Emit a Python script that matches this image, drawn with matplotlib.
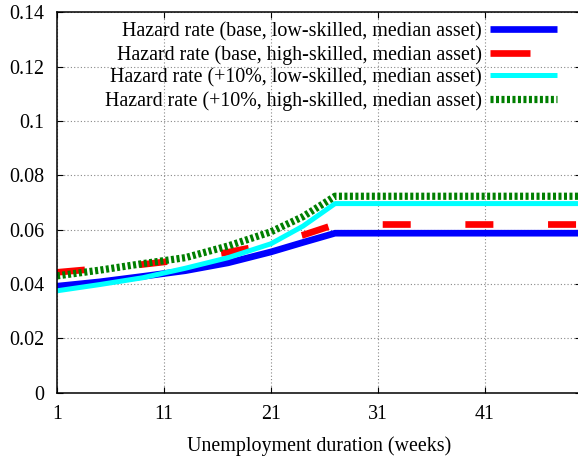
import matplotlib
matplotlib.use("Agg")
import matplotlib.pyplot as plt
from matplotlib.ticker import FuncFormatter

plt.rcParams['font.family'] = ['Liberation Serif', 'DejaVu Serif']

# weeks and hazard rates
weeks = [1, 5, 9, 13, 17, 21, 24, 27, 50]
base_low = [0.0392, 0.0408, 0.0428, 0.0449, 0.0478, 0.0518, 0.0553, 0.0587, 0.0587]
base_high = [0.0443, 0.0457, 0.0472, 0.0490, 0.0517, 0.0548, 0.0580, 0.0619, 0.0619]
plus_low = [0.0375, 0.0398, 0.0423, 0.0458, 0.0497, 0.0548, 0.0613, 0.0696, 0.0696]
plus_high = [0.0430, 0.0451, 0.0475, 0.0497, 0.0540, 0.0592, 0.0648, 0.0723, 0.0723]

labels = ['Hazard rate (base, low-skilled, median asset)',
          'Hazard rate (base, high-skilled, median asset)',
          'Hazard rate (+10%, low-skilled, median asset)',
          'Hazard rate (+10%, high-skilled, median asset)']
xticks = [1, 11, 21, 31, 41]
yticks = [0, 0.02, 0.04, 0.06, 0.08, 0.1, 0.12, 0.14]

fig = plt.figure(figsize=(5.78, 4.59), dpi=100)
ax = fig.add_axes([57 / 578, 66.3 / 459, 524 / 578, 380.4 / 459])

ax.plot(weeks, base_low, color='#0000ff', lw=4.8, solid_capstyle='butt', label=labels[0])
ax.plot(weeks, base_high, color='#ff0000', lw=4.8, dashes=(4.2, 8.2), dash_capstyle='butt', label=labels[1])
ax.plot(weeks, plus_low, color='#00ffff', lw=3.6, solid_capstyle='butt', label=labels[2])
ax.plot(weeks, plus_high, color='#007f00', lw=5.2, dashes=(0.42, 0.34), dash_capstyle='butt', label=labels[3])

ax.set_xlim(1, 50)
ax.set_ylim(0, 0.14)
ax.set_xticks(xticks)
ax.set_yticks(yticks)
ax.yaxis.set_major_formatter(FuncFormatter(lambda v, p: f"{v:g}"))
ax.tick_params(direction='in', length=4.3, width=0.8, top=True, right=True, labelsize=14.4)
ax.tick_params(axis='y', pad=9)
ax.tick_params(axis='x', pad=9)
ax.grid(True, color='#888888', lw=0.8, linestyle=(0, (1, 2)))
for s in ax.spines.values():
    s.set_linewidth(1.1)

ax.set_xlabel('Unemployment duration (weeks)', fontsize=14.4, labelpad=9)

leg = ax.legend(loc='upper right', bbox_to_anchor=(557 / 578, 1 - 22 / 459),
                bbox_transform=fig.transFigure, frameon=False, markerfirst=False,
                fontsize=14.4, handlelength=3.35, handletextpad=0.4, labelspacing=0.18,
                borderpad=0, borderaxespad=0)
for col in leg._legend_box._children[-1]._children:
    col.align = 'right'
leg.get_lines()[1].set_dashes((6, 8))

fig.savefig('out.png', dpi=100)
